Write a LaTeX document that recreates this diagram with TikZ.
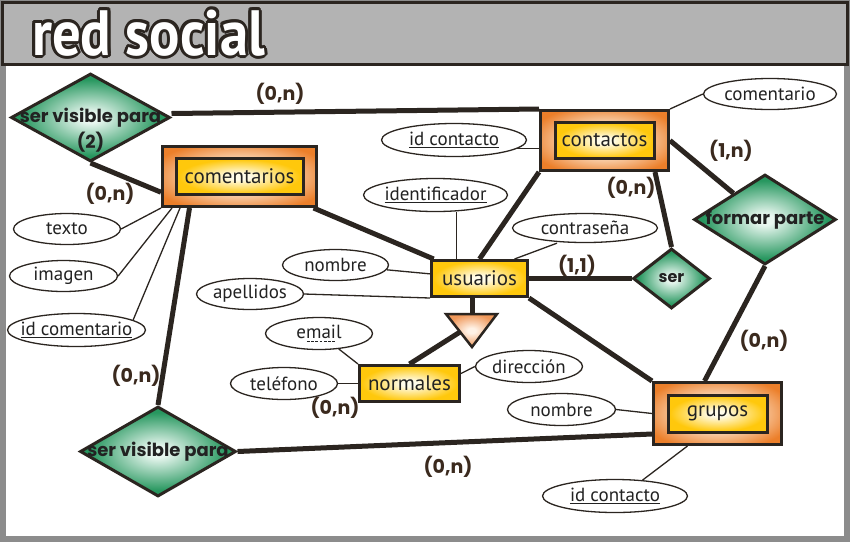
\documentclass[tikz,border=0pt]{standalone}
\usepackage{fontspec}
\setmainfont{PT Sans}
\newfontfamily\relfont{Poppins}[Numbers=OldStyle]
\usetikzlibrary{shapes.geometric,calc}

\definecolor{linec}{HTML}{2B2520}
\definecolor{textc}{HTML}{222222}
\definecolor{cardc}{HTML}{3B2A1E}
\definecolor{bgc}{HTML}{8C8C8C}
\definecolor{titlec}{HTML}{B3B3B3}
\definecolor{orangeout}{HTML}{EC7F2A}
\definecolor{orangein}{HTML}{FBE0C6}
\definecolor{yellowout}{HTML}{FFC80C}
\definecolor{yellowin}{HTML}{FFFCEA}
\definecolor{greenout}{HTML}{27975F}
\definecolor{greenin}{HTML}{E9F7F0}
\definecolor{isaout}{HTML}{F0985A}
\definecolor{isain}{HTML}{FFF2E6}

\pgfdeclareradialshading{orangeglow}{\pgfpointorigin}{color(0bp)=(orangein); color(12bp)=(orangein);
  color(30bp)=(orangeout); color(50bp)=(orangeout)}
\pgfdeclareradialshading{yellowglow}{\pgfpointorigin}{color(0bp)=(yellowin); color(4bp)=(yellowin);
  color(24bp)=(yellowout); color(50bp)=(yellowout)}
\pgfdeclareradialshading{greenglow}{\pgfpointorigin}{color(0bp)=(greenin); color(3bp)=(greenin);
  color(22bp)=(greenout); color(50bp)=(greenout)}
\pgfdeclareradialshading{isaglow}{\pgfpointorigin}{color(0bp)=(isain); color(4bp)=(isain);
  color(25bp)=(isaout); color(50bp)=(isaout)}

% zero width text, so the shapes keep their own size
\newcommand{\zw}[1]{\makebox[0pt]{#1}}
% key underlines
\newcommand{\solidul}[1]{\setbox0\hbox{#1}\rlap{\raisebox{-3pt}{\rule{\wd0}{1pt}}}\box0}
\newcommand{\dashul}[1]{\setbox0\hbox{#1}\rlap{\raisebox{-3pt}{\hbox to \wd0{\xleaders\hbox to 4pt{\hss\rule{2.8pt}{1pt}\hss}\hfill}}}\box0}

\begin{document}
\begin{tikzpicture}[x=1pt,y=-1pt]
  \tikzset{
    entout/.style 2 args={rectangle, draw=linec, line width=3pt, shade, shading=orangeglow,
      minimum width=#1, minimum height=#2},
    entin/.style 2 args={rectangle, draw=linec, line width=3pt, shade, shading=yellowglow,
      text=textc, font=\fontsize{21}{24}\selectfont, minimum width=#1, minimum height=#2},
    rel/.style 2 args={diamond, draw=linec, line width=3pt, shade, shading=greenglow,
      inner sep=0pt, text=textc, font=\relfont\bfseries\fontsize{18}{20}\selectfont,
      minimum width=#1, minimum height=#2},
    attr/.style 2 args={ellipse, draw=linec, line width=1.3pt, fill=white, inner sep=0pt,
      text=textc, font=\fontsize{19}{21}\selectfont, minimum width=#1, minimum height=#2},
    card/.style={text=cardc, font=\relfont\bfseries\fontsize{19}{20}\selectfont},
    link/.style={draw=linec, line width=5pt},
    thin/.style={draw=linec, line width=1.3pt}
  }
  \useasboundingbox (0,0) rectangle (850,542);
  % frame and title
  \fill[bgc] (0,0) rectangle (850,542);
  \fill[white] (6,66) rectangle (844,536);
  \draw[draw=linec, line width=3pt, fill=titlec] (2,2) rectangle (847,64);
  \foreach \a in {0,30,...,330}
    \node[anchor=base west, inner sep=0pt, text=linec, font=\bfseries\fontsize{64}{64}\selectfont]
      (tb\a) at ($(32,55)+(\a:3pt)$) {\scalebox{0.886}[1]{red social}};
  \node[anchor=base west, inner sep=0pt, text=white, font=\bfseries\fontsize{64}{64}\selectfont]
    (title) at (32,55) {\scalebox{0.886}[1]{red social}};

  % entities
  \node[entout={154pt}{60pt}] (comentarios) at (239.5,176.5) {};
  \node[entin={127pt}{36pt}] (comentariosT) at (comentarios) {comentarios};
  \node[entout={128pt}{60pt}] (contactos) at (604.5,140.5) {};
  \node[entin={99pt}{36pt}] (contactosT) at (contactos) {contactos};
  \node[entout={128pt}{62pt}] (grupos) at (717.5,413.5) {};
  \node[entin={99pt}{37pt}] (gruposT) at (grupos) {grupos};
  \node[entin={96pt}{36pt}] (usuarios) at (479.5,278.5) {usuarios};
  \node[entin={100pt}{36pt}] (normales) at (409.5,383.5) {normales};

  % relationships
  \node[rel={159pt}{88pt}] (svpA) at (90.5,117.5) {\zw{ser visible para}};
  \node[text=textc, font=\relfont\bfseries\fontsize{18}{20}\selectfont] (svpAnum) at (90.5,142) {(2)};
  \node[rel={156pt}{90pt}] (svpB) at (158,451.5) {\zw{ser visible para}};
  \node[rel={142pt}{90pt}] (formar) at (765,219.5) {\zw{formar parte}};
  \node[rel={77pt}{60pt}, font=\relfont\bfseries\fontsize{16}{18}\selectfont] (ser) at (671.5,278.5) {ser};

  % attributes
  \node[attr={133pt}{31pt}] (comentario) at (770,94) {\zw{comentario}};
  \node[attr={145pt}{33pt}] (idcC) at (454,140) {\zw{\solidul{id contacto}}};
  \node[attr={144pt}{33pt}] (ident) at (435.5,195) {\zw{\solidul{identificador}}};
  \node[attr={145pt}{29pt}] (contra) at (585,228) {\zw{contraseña}};
  \node[attr={106pt}{31pt}] (nomU) at (335.5,265) {\zw{nombre}};
  \node[attr={107pt}{31pt}] (apell) at (250,294) {\zw{apellidos}};
  \node[attr={107pt}{32pt}] (email) at (319,333.5) {\zw{e\dashul{mai}l}};
  \node[attr={107pt}{32pt}] (tel) at (284,383.5) {\zw{teléfono}};
  \node[attr={107pt}{32pt}] (dir) at (529,366.5) {\zw{dirección}};
  \node[attr={108pt}{32pt}] (nomG) at (561.5,409.5) {\zw{nombre}};
  \node[attr={145pt}{33pt}] (idcG) at (615,496) {\zw{\solidul{id contacto}}};
  \node[attr={107pt}{31pt}] (texto) at (67,229) {\zw{texto}};
  \node[attr={108pt}{31pt}] (imagen) at (63.5,276) {\zw{imagen}};
  \node[attr={138pt}{33pt}] (idcom) at (76.5,330) {\zw{\solidul{id comentario}}};

  % isa triangle
  \coordinate (isaL) at (446,314);
  \coordinate (isaR) at (497,314);
  \coordinate (isaTip) at (472,347);
  \coordinate (isaTop) at (472,314);
  \coordinate (isaEdge) at (460,332);

  % relationship lines
  \draw[link] ([yshift=4pt]svpA.east) -- (contactos.north west);
  \draw[link] (svpA.south) -- ($(comentarios.south west)!0.25!(comentarios.north west)$);
  \draw[link] (comentarios) -- (usuarios);
  \draw[link] (contactos.south west) -- (usuarios.north);
  \draw[link] ([xshift=-15pt]contactos.south east) -- (ser.north);
  \draw[link] (contactos.east) -- (formar);
  \draw[link] (usuarios.east) -- (ser.west);
  \draw[link] (usuarios.south east) -- (grupos.north west);
  \draw[link] (formar.south) -- ([xshift=-13pt]grupos.north);
  \draw[link] ([xshift=-50pt]comentarios.south) -- (svpB.north);
  \draw[link] (svpB.east) -- ([yshift=12pt]grupos.south west);
  \draw[link] (isaTop) -- (isaTop |- usuarios.south);
  \draw[link] (isaEdge) -- (normales.north);
  \shadedraw[draw=linec, line width=2.5pt, shading=isaglow]
    (isaL) -- (isaR) -- (isaTip) -- cycle;

  % attribute lines
  \draw[thin] (contactos.north east) -- (comentario.west);
  \draw[thin] (idcC.-8) -- (idcC.-8 -| contactos.west);
  \draw[thin] ([xshift=-23pt]usuarios.north) -- ([xshift=-23pt]usuarios.north |- ident.south);
  \draw[thin] ([xshift=35pt]usuarios.north) -- ([xshift=-28pt]contra.south);
  \draw[thin] (nomU) -- (usuarios);
  \draw[thin] (apell.east) -- (usuarios.south west);
  \draw[thin] (email) -- (normales.north west);
  \draw[thin] (tel.east) -- (normales.west);
  \draw[thin] ([yshift=10pt]normales.east) -- (dir.west);
  \draw[thin] (nomG.east) -- (grupos.west);
  \draw[thin] (idcG.30) -- ([xshift=-30pt]grupos.south);
  \draw[thin] (texto.east) -- (comentarios.south west);
  \draw[thin] (imagen.east) -- ([xshift=11pt]comentarios.south west);
  \draw[thin] (idcom.10) -- ([xshift=19pt]comentarios.south west);

  % cardinalities
  \node[card] (cA) at (280,94) {(0,n)};
  \node[card] (cB) at (110,194) {(0,n)};
  \node[card] (cC) at (731,151) {(1,n)};
  \node[card] (cD) at (631,188) {(0,n)};
  \node[card] (cE) at (577,266) {(1,1)};
  \node[card] (cF) at (764,341) {(0,n)};
  \node[card] (cG) at (136,376) {(0,n)};
  \node[card] (cH) at (335,408) {(0,n)};
  \node[card] (cI) at (448,467) {(0,n)};
\end{tikzpicture}
\end{document}
